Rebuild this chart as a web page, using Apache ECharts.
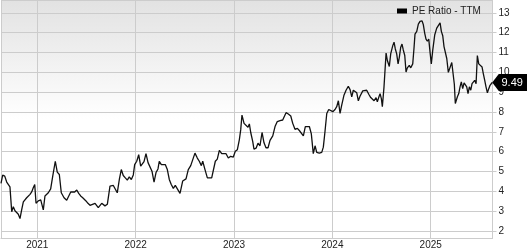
<!DOCTYPE html>
<html>
<head>
<meta charset="utf-8">
<script src="https://cdn.jsdelivr.net/npm/echarts@6/dist/echarts.min.js"></script>
<style>html,body{margin:0;padding:0;background:#fff}#c{width:527px;height:250px}</style>
</head>
<body>
<div id="c"></div>
<script>
// dates as decimal years
const dates = [
2020.631,2020.648,2020.669,2020.689,2020.709,2020.722,2020.740,2020.756,2020.773,2020.791,
2020.807,2020.824,2020.841,2020.858,2020.892,2020.926,2020.943,2020.959,2020.974,2020.987,
2021.010,2021.035,2021.061,2021.078,2021.112,2021.136,2021.157,2021.183,2021.203,2021.224,
2021.244,2021.272,2021.299,2021.319,2021.340,2021.360,2021.380,2021.401,2021.421,2021.441,
2021.462,2021.475,2021.495,2021.515,2021.536,2021.553,2021.587,2021.620,2021.655,2021.688,
2021.712,2021.739,2021.773,2021.793,2021.813,2021.834,2021.854,2021.874,2021.895,2021.915,
2021.935,2021.956,2021.976,2021.990,2022.011,2022.031,2022.051,2022.065,2022.085,2022.105,
2022.126,2022.146,2022.166,2022.187,2022.207,2022.227,2022.240,2022.261,2022.281,2022.301,
2022.322,2022.342,2022.362,2022.383,2022.403,2022.423,2022.451,2022.478,2022.512,2022.535,
2022.560,2022.580,2022.603,2022.627,2022.647,2022.668,2022.682,2022.705,2022.729,2022.749,
2022.773,2022.790,2022.810,2022.830,2022.851,2022.875,2022.891,2022.919,2022.942,2022.966,
2022.993,2023.013,2023.034,2023.054,2023.068,2023.081,2023.102,2023.122,2023.142,2023.156,
2023.170,2023.190,2023.203,2023.224,2023.244,2023.264,2023.285,2023.305,2023.325,2023.346,
2023.366,2023.394,2023.417,2023.440,2023.468,2023.495,2023.508,2023.529,2023.552,2023.577,
2023.597,2023.620,2023.644,2023.664,2023.684,2023.705,2023.725,2023.745,2023.766,2023.786,
2023.806,2023.824,2023.841,2023.867,2023.892,2023.908,2023.925,2023.943,2023.963,2023.983,
2024.004,2024.027,2024.044,2024.061,2024.078,2024.095,2024.118,2024.139,2024.162,2024.180,
2024.197,2024.213,2024.230,2024.248,2024.264,2024.281,2024.309,2024.329,2024.349,2024.370,
2024.390,2024.403,2024.424,2024.444,2024.457,2024.471,2024.485,2024.498,2024.508,2024.525,
2024.546,2024.559,2024.579,2024.593,2024.614,2024.627,2024.640,2024.654,2024.668,2024.681,
2024.695,2024.708,2024.721,2024.736,2024.749,2024.762,2024.782,2024.797,2024.817,2024.830,
2024.840,2024.858,2024.874,2024.891,2024.912,2024.925,2024.939,2024.952,2024.966,2024.980,
2024.993,2025.006,2025.020,2025.041,2025.061,2025.081,2025.095,2025.108,2025.122,2025.135,
2025.149,2025.163,2025.179,2025.196,2025.214,2025.230,2025.240,2025.250,2025.271,2025.285,
2025.298,2025.311,2025.325,2025.339,2025.352,2025.366,2025.379,2025.393,2025.407,2025.420,
2025.433,2025.447,2025.461,2025.474,2025.488,2025.501,2025.522,2025.535,2025.549,2025.562,
2025.576,2025.590,2025.603,2025.625
];
const peValues = [
4.4,4.82,4.77,4.47,4.43,4.23,2.97,3.23,3.02,3.0,
2.85,2.63,3.07,3.47,3.68,3.85,3.97,4.18,4.35,3.4,
3.52,3.57,3.07,3.77,3.93,4.13,4.77,5.52,4.97,4.85,
3.93,3.68,3.55,3.65,3.97,4.0,3.97,4.07,3.9,3.77,
3.68,3.6,3.52,3.4,3.3,3.23,3.4,3.18,3.4,3.27,
3.35,4.27,4.3,4.23,3.93,4.6,5.1,4.8,4.68,4.57,
4.73,4.6,4.83,5.35,5.52,5.85,5.27,5.18,5.5,5.9,
5.45,5.35,5.02,4.47,4.95,5.13,5.52,5.35,5.4,5.35,
5.1,4.6,4.35,4.15,4.3,4.35,3.9,4.52,4.63,5.1,
5.3,5.35,5.93,5.68,5.52,5.3,5.52,5.1,4.68,4.6,
4.68,4.63,5.52,5.63,6.07,5.9,5.97,5.9,5.68,5.77,
5.73,6.02,6.1,6.6,7.1,7.85,7.43,7.4,7.23,7.4,
6.97,6.52,6.13,6.18,6.43,6.3,6.97,6.45,6.2,6.2,
6.57,6.8,7.27,7.52,7.57,7.6,7.57,7.97,7.9,7.8,
7.43,7.13,7.18,7.07,7.13,6.8,7.27,7.35,7.27,6.9,
5.9,6.3,5.97,5.93,5.97,6.23,7.02,7.93,8.13,8.07,
8.02,8.13,8.27,8.57,7.93,8.35,8.85,9.1,9.3,9.13,
8.77,9.1,9.18,8.97,8.57,8.8,9.07,9.02,9.1,8.9,
8.73,8.8,8.57,8.73,8.52,8.73,8.93,8.68,8.27,9.27,
10.97,10.6,10.3,10.93,11.35,11.52,11.18,10.93,10.43,10.77,
11.27,11.43,11.13,10.85,10.02,10.23,10.35,10.23,10.43,11.23,
11.93,12.07,12.43,12.57,12.6,12.4,11.97,11.68,11.57,11.68,
11.02,10.43,11.1,11.9,12.23,12.27,12.5,12.07,11.85,11.3,
11.2,10.7,10.0,10.05,10.5,10.4,9.4,8.43,8.77,8.93,
9.27,9.52,9.18,9.47,9.52,9.27,8.93,9.27,9.1,9.43,
9.35,9.6,9.43,10.85,10.43,10.35,10.27,9.93,9.6,9.27,
8.97,9.18,9.35,9.49
];
const seriesName = 'PE Ratio - TTM';

const data = dates.map((d, i) => [d, peValues[i]]);
const last = data[data.length - 1];
const FONT = '"Liberation Sans", Arial, sans-serif';
const GRID_COLOR = '#cccccc';

const chart = echarts.init(document.getElementById('c'), null, {renderer: 'canvas'});
chart.setOption({
  animation: false,
  textStyle: {fontFamily: FONT},
  grid: {
    left: 1, right: 34.5, top: -1, bottom: 11,
    show: true, borderWidth: 0,
    backgroundColor: new echarts.graphic.LinearGradient(0, 0, 0, 1, [
      {offset: 0, color: '#e2e2e2'},
      {offset: 0.5, color: '#ffffff'},
      {offset: 1, color: '#ffffff'}
    ])
  },
  legend: {
    data: [seriesName],
    left: 397, top: 6, padding: 0,
    icon: 'rect', itemWidth: 10, itemHeight: 5,
    itemStyle: {color: '#000'},
    textStyle: {fontSize: 10, color: '#222', fontFamily: FONT}
  },
  xAxis: {
    type: 'value',
    min: 2020.631, max: 2025.628,
    splitNumber: 5,
    axisLine: {show: true, lineStyle: {color: GRID_COLOR, width: 1}},
    axisTick: {show: false},
    splitLine: {show: true, lineStyle: {color: GRID_COLOR, width: 1}},
    axisLabel: {
      show: true, margin: 2, fontSize: 10, color: '#222', fontFamily: FONT,
      showMinLabel: false, showMaxLabel: false,
      formatter: v => String(Math.round(v))
    }
  },
  yAxis: {
    type: 'value',
    position: 'right',
    min: 1.65, max: 13.65,
    splitNumber: 12,
    axisLine: {show: true, lineStyle: {color: GRID_COLOR, width: 1}},
    axisTick: {show: true, length: 4, lineStyle: {color: GRID_COLOR}},
    splitLine: {show: true, lineStyle: {color: GRID_COLOR, width: 1}},
    axisLabel: {
      show: true, margin: 6, fontSize: 10, color: '#222', fontFamily: FONT,
      showMinLabel: false, showMaxLabel: false,
      formatter: v => String(Math.round(v))
    }
  },
  series: [{
    name: seriesName,
    type: 'line',
    data: data,
    showSymbol: false,
    symbol: 'none',
    itemStyle: {color: '#000'},
    lineStyle: {color: '#111', width: 1.3},
    markPoint: {
      silent: true,
      data: [{coord: last, value: last[1]}],
      symbol: 'path://M0,9 L8,0 L44,0 L44,18 L8,18 Z',
      symbolSize: [36, 17],
      symbolOffset: [18, 0],
      itemStyle: {color: '#000'},
      label: {
        show: true, position: 'inside', offset: [2, 0],
        color: '#fff', fontSize: 11, fontFamily: FONT,
        formatter: p => Number(p.value).toFixed(2)
      }
    }
  }]
});
</script>
</body>
</html>
